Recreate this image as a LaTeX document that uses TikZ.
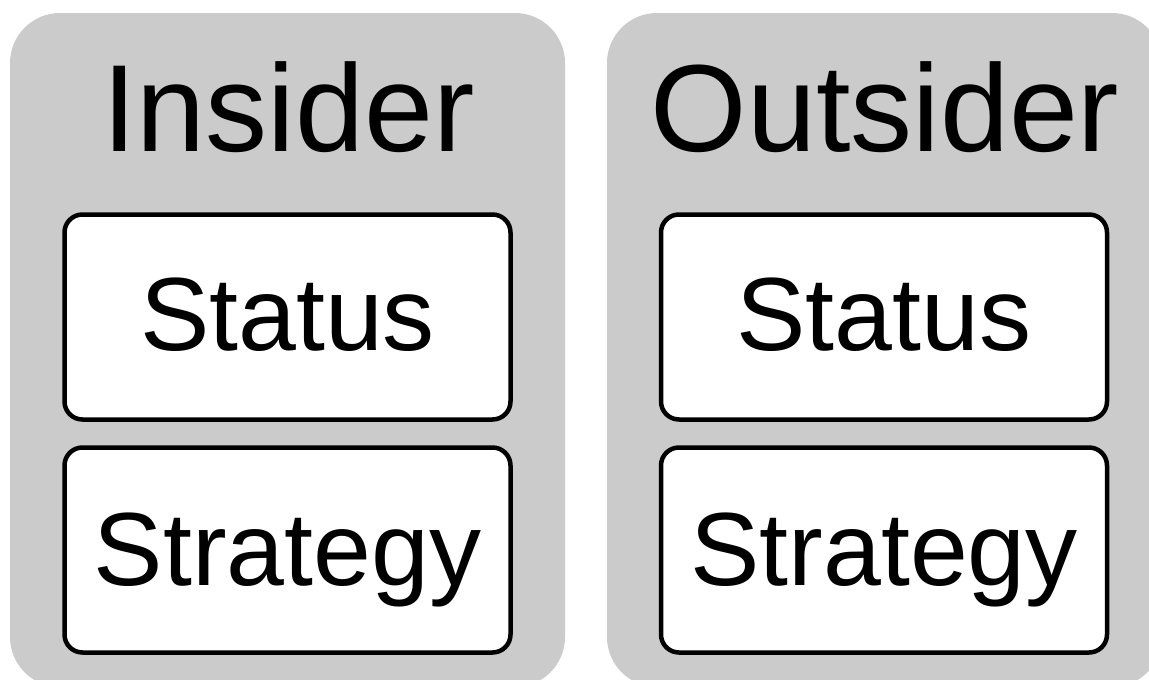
\documentclass[tikz,border=0pt]{standalone}
\usepackage{fontspec}
\setmainfont{Liberation Sans}
\definecolor{panelgrey}{RGB}{203,203,203}
\tikzset{
  panel/.style={fill=panelgrey, draw=none, rounded corners=50pt, minimum width=555pt, minimum height=674pt, inner sep=0pt},
  itembox/.style={fill=white, draw=black, line width=4.5pt, rounded corners=18pt, minimum width=446pt, minimum height=205pt, inner sep=0pt},
  titletext/.style={font=\fontsize{124}{140}\selectfont, inner sep=0pt, anchor=base},
  itemtext/.style={font=\fontsize{104}{120}\selectfont, inner sep=0pt, anchor=base}
}
\begin{document}
\begin{tikzpicture}[x=1pt,y=-1pt]
\useasboundingbox (0,0) rectangle (1149,680);
\clip (0,0) rectangle (1149,680);
\node[panel] (L) at (287.5,350) {};
\node[panel] (R) at (884.5,350) {};
\node[titletext] (Lt) at (288.5,151) {Insider};
\node[titletext] (Rt) at (885,151) {Outsider};
\node[itembox] (Ls) at (287.5,317) {};
\node[itembox] (Lg) at (287.5,550) {};
\node[itembox] (Rs) at (884,317) {};
\node[itembox] (Rg) at (884,550) {};
\node[itemtext] at (287.5,350) {Status};
\node[itemtext] at (287.5,585) {Strategy};
\node[itemtext] at (884,350) {Status};
\node[itemtext] at (884,585) {Strategy};
\end{tikzpicture}
\end{document}
